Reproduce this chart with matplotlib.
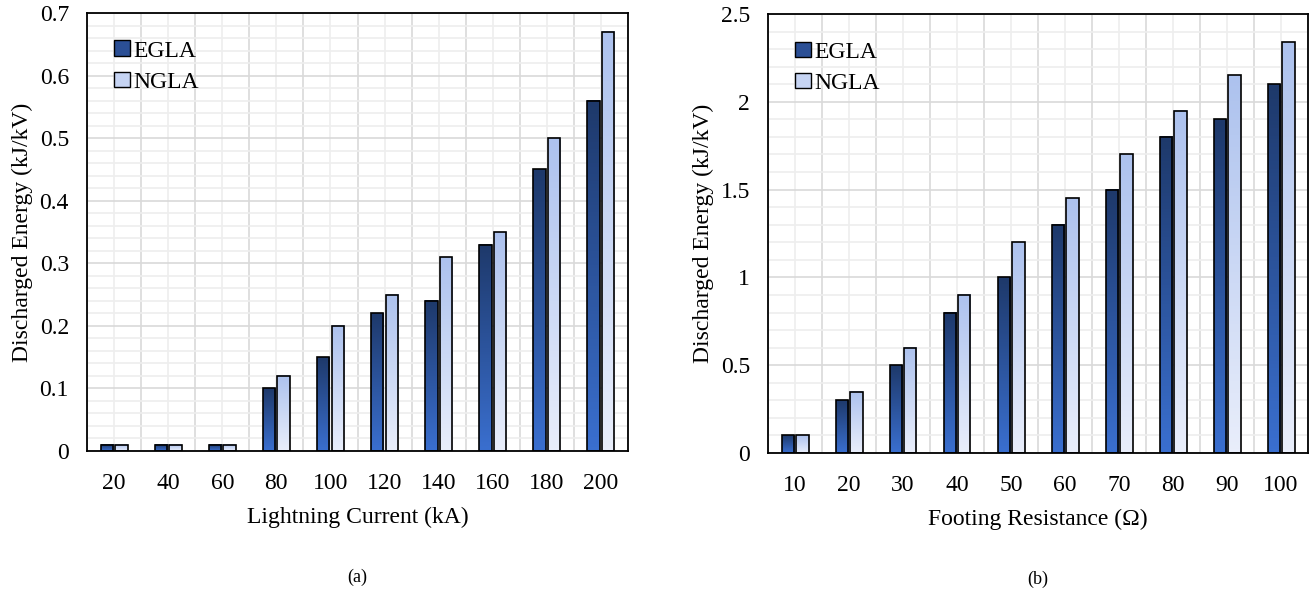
import numpy as np
import matplotlib
matplotlib.use("Agg")
import matplotlib.pyplot as plt
from matplotlib.colors import LinearSegmentedColormap
from matplotlib.patches import Patch
from matplotlib.ticker import MultipleLocator, FuncFormatter

plt.rcParams['font.family'] = ['Liberation Serif', 'DejaVu Serif']

# (a) lightning current
current_labels = ['20', '40', '60', '80', '100', '120', '140', '160', '180', '200']
current_egla = [0.01, 0.01, 0.01, 0.10, 0.15, 0.22, 0.24, 0.33, 0.45, 0.56]
current_ngla = [0.01, 0.01, 0.01, 0.12, 0.20, 0.25, 0.31, 0.35, 0.50, 0.67]

# (b) footing resistance
resist_labels = ['10', '20', '30', '40', '50', '60', '70', '80', '90', '100']
resist_egla = [0.1, 0.3, 0.5, 0.8, 1.0, 1.3, 1.5, 1.8, 1.9, 2.1]
resist_ngla = [0.1, 0.35, 0.6, 0.9, 1.2, 1.45, 1.7, 1.95, 2.15, 2.34]

# gradients: bottom colour -> top colour
egla_cmap = LinearSegmentedColormap.from_list('egla', ['#3a6fcf', '#1e396b'])
ngla_cmap = LinearSegmentedColormap.from_list('ngla', ['#e9eefb', '#adc2ee'])

BAR_W = 0.23
OFFSET = 0.135
FS = 17


def gradient_bars(ax, x, vals, cmap):
    grad = np.linspace(0, 1, 100).reshape(-1, 1)
    for xi, v in zip(x, vals):
        ax.imshow(grad, cmap=cmap, origin='lower', aspect='auto',
                  extent=(xi - BAR_W / 2, xi + BAR_W / 2, 0, v), zorder=2)
    ax.bar(x, vals, width=BAR_W, facecolor='none', edgecolor='black',
           linewidth=1.2, zorder=3)


def draw_panel(ax, labels, egla, ngla, ymax, major, xlabel, caption):
    x = np.arange(len(labels))
    gradient_bars(ax, x - OFFSET, egla, egla_cmap)
    gradient_bars(ax, x + OFFSET, ngla, ngla_cmap)
    ax.set_xlim(-0.5, len(labels) - 0.5)
    ax.set_ylim(0, ymax)

    ax.set_xticks(x)
    ax.set_xticklabels(labels)
    ax.yaxis.set_major_locator(MultipleLocator(major))
    ax.yaxis.set_minor_locator(MultipleLocator(major / 5))
    ax.yaxis.set_major_formatter(FuncFormatter(lambda v, p: '%g' % round(v, 3)))

    # vertical grid: darker at category edges, lighter at centres
    for xb in np.arange(len(labels) + 1) - 0.5:
        ax.axvline(xb, color='#d9d9d9', lw=1.2, zorder=0)
    for xc in x:
        ax.axvline(xc, color='#eeeeee', lw=1.2, zorder=0)
    ax.grid(axis='y', which='major', color='#d9d9d9', lw=1.2, zorder=0)
    ax.grid(axis='y', which='minor', color='#eeeeee', lw=1.2, zorder=0)
    ax.set_axisbelow(True)

    ax.tick_params(which='both', length=0, labelsize=FS)
    ax.tick_params(axis='y', pad=13)
    ax.tick_params(axis='x', pad=16)
    for s in ax.spines.values():
        s.set_linewidth(1.3)

    ax.set_xlabel(xlabel, fontsize=FS, labelpad=9)
    ax.set_ylabel('Discharged Energy (kJ/kV)', fontsize=FS, labelpad=5)

    handles = [Patch(facecolor='#2b4f95', edgecolor='black', label='EGLA'),
               Patch(facecolor='#c6d4f3', edgecolor='black', label='NGLA')]
    ax.legend(handles=handles, loc='upper left', bbox_to_anchor=(0.02, 0.975),
              frameon=False, fontsize=FS, handlelength=0.65, handleheight=0.65,
              handletextpad=0.15, labelspacing=0.42, borderaxespad=0.3)
    ax.text(0.5, -0.288, caption, transform=ax.transAxes, ha='center',
            va='center', fontsize=13)


fig = plt.figure(figsize=(13.15, 5.89), dpi=100)
ax1 = fig.add_axes([87 / 1315, 1 - 451 / 589, 541 / 1315, 438 / 589])
ax2 = fig.add_axes([768 / 1315, 1 - 453 / 589, 540 / 1315, 439 / 589])

draw_panel(ax1, current_labels, current_egla, current_ngla, 0.7, 0.1,
           'Lightning Current (kA)', '(a)')
draw_panel(ax2, resist_labels, resist_egla, resist_ngla, 2.5, 0.5,
           'Footing Resistance (Ω)', '(b)')

fig.savefig('out.png', dpi=100)
